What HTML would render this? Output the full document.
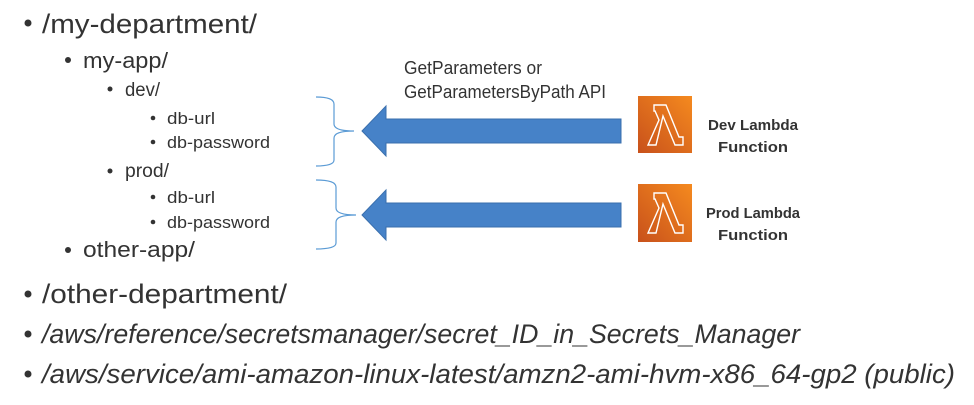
<!DOCTYPE html>
<html><head><meta charset="utf-8"><style>
html,body{margin:0;padding:0;background:#fff;}
svg{display:block;}
text{font-family:"Liberation Sans",sans-serif;fill:#333;}
</style></head><body>
<svg width="974" height="405" viewBox="0 0 974 405" xmlns="http://www.w3.org/2000/svg">
<g fill="#333">
<circle cx="28" cy="23" r="3.5"/>
<circle cx="68" cy="60" r="3"/>
<circle cx="110" cy="89" r="2.5"/>
<circle cx="153" cy="118" r="2.3"/>
<circle cx="153" cy="142" r="2.3"/>
<circle cx="110" cy="171" r="2.5"/>
<circle cx="153" cy="197" r="2.3"/>
<circle cx="153" cy="222" r="2.3"/>
<circle cx="68" cy="250" r="3"/>
<circle cx="28" cy="294" r="3.5"/>
<circle cx="28" cy="334" r="3.5"/>
<circle cx="28" cy="374" r="3.5"/>
</g>
<text x="42" y="33" font-size="27" textLength="215" lengthAdjust="spacingAndGlyphs">/my-department/</text>
<text x="83" y="68" font-size="22" textLength="85" lengthAdjust="spacingAndGlyphs">my-app/</text>
<text x="125" y="96" font-size="19" textLength="35" lengthAdjust="spacingAndGlyphs">dev/</text>
<text x="167" y="124" font-size="17" textLength="48" lengthAdjust="spacingAndGlyphs">db-url</text>
<text x="167" y="148" font-size="17" textLength="103" lengthAdjust="spacingAndGlyphs">db-password</text>
<text x="125" y="177" font-size="19" textLength="44" lengthAdjust="spacingAndGlyphs">prod/</text>
<text x="167" y="203" font-size="17" textLength="48" lengthAdjust="spacingAndGlyphs">db-url</text>
<text x="167" y="228" font-size="17" textLength="103" lengthAdjust="spacingAndGlyphs">db-password</text>
<text x="83" y="257" font-size="22" textLength="112" lengthAdjust="spacingAndGlyphs">other-app/</text>
<text x="42" y="303" font-size="27" textLength="245" lengthAdjust="spacingAndGlyphs">/other-department/</text>
<text x="42" y="343" font-size="27" font-style="italic" textLength="758" lengthAdjust="spacingAndGlyphs">/aws/reference/secretsmanager/secret_ID_in_Secrets_Manager</text>
<text x="42" y="383" font-size="27" font-style="italic" textLength="913" lengthAdjust="spacingAndGlyphs">/aws/service/ami-amazon-linux-latest/amzn2-ami-hvm-x86_64-gp2 (public)</text>

<g fill="none" stroke="#5b9bd5" stroke-width="1.2">
<path d="M316 97 Q334 97 334 104 L334 124 Q334 131 354 131 Q334 131 334 138 L334 160 Q334 166 316 166"/>
<path d="M316 180 Q336 180 336 187 L336 208 Q336 215 356 215 Q336 215 336 222 L336 243 Q336 249 316 249"/>
</g>
<g fill="#4682c8" stroke="#3a6fad" stroke-width="1">
<polygon points="362,131 386,106 386,119 621,119 621,143 386,143 386,156"/>
<polygon points="362,215 386,190 386,203 621,203 621,227 386,227 386,240"/>
</g>
<text x="404" y="74" font-size="18" textLength="138" lengthAdjust="spacingAndGlyphs">GetParameters or</text>
<text x="404" y="98" font-size="18" textLength="202" lengthAdjust="spacingAndGlyphs">GetParametersByPath API</text>

<defs><linearGradient id="g" x1="0" y1="1" x2="1" y2="0"><stop offset="0" stop-color="#c8511b"/><stop offset="1" stop-color="#f58a1f"/></linearGradient></defs>
<rect x="638" y="96" width="54" height="57" fill="url(#g)"/>
<rect x="638" y="184" width="54" height="58" fill="url(#g)"/>
<g fill="none" stroke="#fff" stroke-width="1.4" stroke-linejoin="miter">
<path d="M654 105 L666 105 L679 137 L683 137 L683 145 L675 145 L663 116 L656 145 L648 145 L659 120 L655 111 L654 111 Z"/>
<path d="M654 193 L666 193 L679 225 L683 225 L683 233 L675 233 L663 204 L656 233 L648 233 L659 208 L655 199 L654 199 Z"/>
</g>
<g font-weight="bold" font-size="15" text-anchor="middle">
<text x="753" y="130" textLength="90" lengthAdjust="spacingAndGlyphs">Dev Lambda</text>
<text x="753" y="152" textLength="70" lengthAdjust="spacingAndGlyphs">Function</text>
<text x="753" y="218" textLength="94" lengthAdjust="spacingAndGlyphs">Prod Lambda</text>
<text x="753" y="240" textLength="70" lengthAdjust="spacingAndGlyphs">Function</text>
</g>
</svg>
</body></html>
